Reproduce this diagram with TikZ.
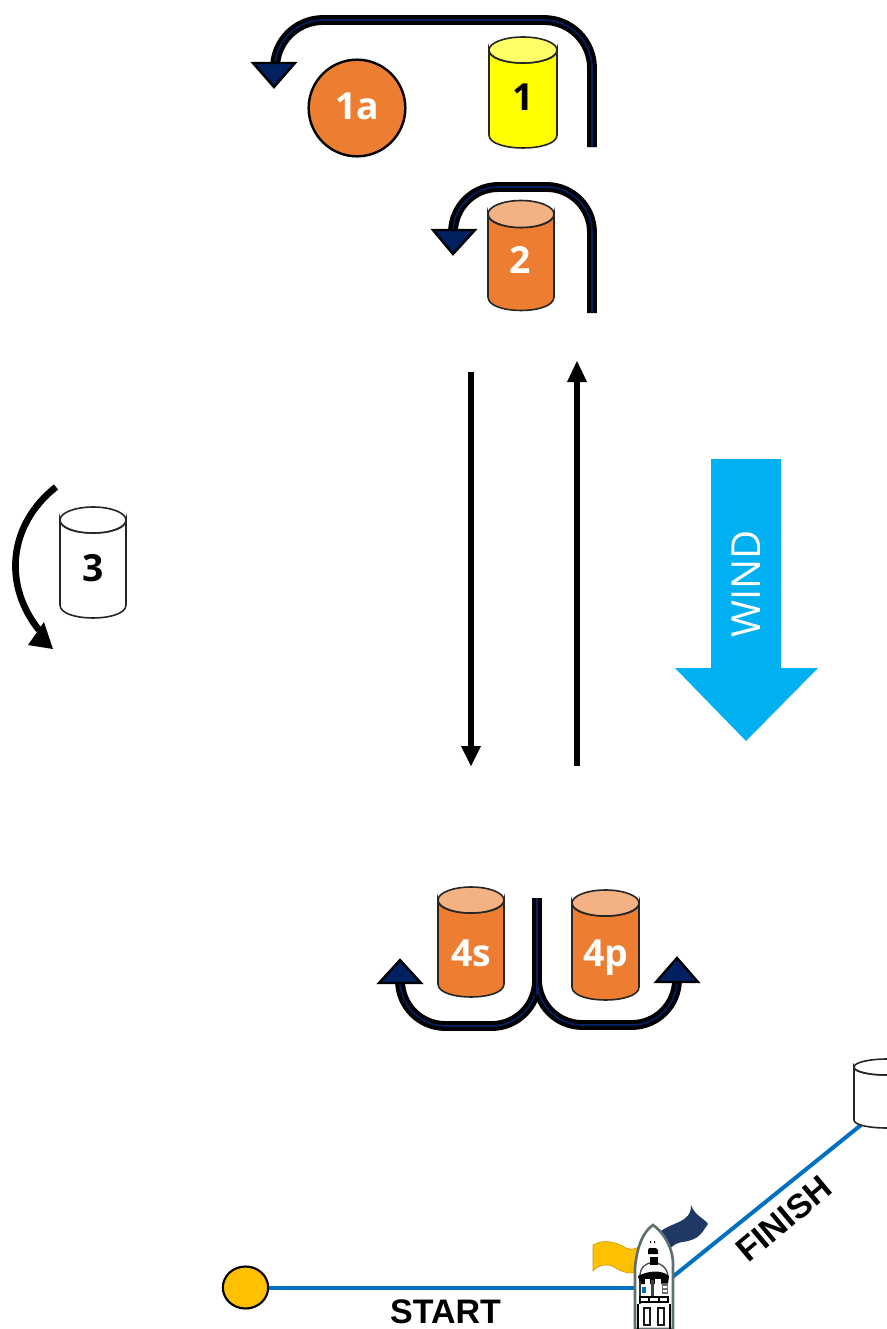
\documentclass[tikz,border=0pt]{standalone}
\usetikzlibrary{shapes.geometric}
\usepackage{fontspec}
\setmainfont{Open Sans}
\newfontfamily\arialfont{Liberation Sans}
\definecolor{navyarrow}{HTML}{002060}
\definecolor{buoyorange}{HTML}{ED7D31}
\definecolor{buoyorangelt}{HTML}{F4B183}
\definecolor{buoyyellow}{HTML}{FFFF00}
\definecolor{buoyyellowlt}{HTML}{FFFF66}
\definecolor{startyellow}{HTML}{FFC000}
\definecolor{linkblue}{HTML}{0070C0}
\definecolor{windblue}{HTML}{00B0F0}
\definecolor{flagblue}{HTML}{1F3864}
\definecolor{hullgrey}{HTML}{5F6F6F}
\newcommand{\buoy}[8]{% name, xl, xr, ytop, ybot, ry, body, lid
  \pgfmathsetmacro{\bc}{(#2+#3)/2}
  \pgfmathsetmacro{\brx}{(#3-#2)/2}
  \filldraw[fill=#7,draw=black!85,line width=1.2pt]
    (#2,#4) -- (#2,#5) .. controls (#2,#5+#6*1.33) and (#3,#5+#6*1.33) .. (#3,#5) -- (#3,#4)
    .. controls (#3,#4+#6*1.33) and (#2,#4+#6*1.33) .. (#2,#4) -- cycle;
  \filldraw[fill=#8,draw=black!85,line width=1.2pt] (\bc,#4) ellipse [x radius=\brx*.75pt,y radius=#6*.75pt];
  \coordinate (#1) at (\bc,{(#4+#5)/2+6});
}
\tikzset{
  x=.75pt,y=-.75pt,
  coursepath/.style={navyarrow,line width=1.3pt,line cap=butt,preaction={draw=black,line width=7.4pt}},
  coursehead/.style={fill=navyarrow,draw=black,line width=1.8pt,line join=miter},
  legstem/.style={draw=black,line width=4.4pt},
  leghead/.style={fill=black,draw=none},
  markerwhite/.style={font=\fontsize{28}{30}\selectfont\bfseries,text=white,inner sep=0pt},
  markerblack/.style={font=\fontsize{28}{30}\selectfont\bfseries,text=black,inner sep=0pt},
  linelabel/.style={font=\arialfont\fontsize{25.5}{27}\selectfont\bfseries,text=black,inner sep=0pt},
  courseline/.style={draw=linkblue,line width=3pt},
}
\begin{document}
\begin{tikzpicture}
\useasboundingbox (0,0) rectangle (887,1329);
% course lines
\node[draw=black,fill=startyellow,line width=1.6pt,ellipse,inner sep=0pt,minimum width=34pt,minimum height=31.5pt] (startmark) at (245.5,1287.5) {};
\coordinate (boatport) at (645,1287.5);
\coordinate (boatstbd) at (670,1279);
\coordinate (finishend) at (861,1125);
\draw[courseline] (startmark) -- (boatport);
\draw[courseline] (boatstbd) -- (finishend);
% finish buoy
\buoy{finishbuoy}{854}{920}{1067}{1120}{8}{white}{white}
% yellow buoy 1 and arrow
\buoy{one}{489}{557}{50}{135}{13}{buoyyellow}{buoyyellowlt}
\node[markerblack] (onelabel) at (523,97) {1};
\node[draw=black,fill=buoyorange,line width=1.8pt,circle,minimum size=72.5pt,inner sep=0pt] (onea) at (357,108) {};
\node[markerwhite] (onealabel) at (357,106) {1a};
\coordinate (aA) at (592,147); \coordinate (aB) at (592,20); \coordinate (aC) at (275,20); \coordinate (aD) at (275,64);
\draw[coursepath,rounded corners=36pt] (aA) -- (aB) -- (aC) -- (aD);
\filldraw[coursehead] (253,63) -- (295,63) -- (274,87) -- cycle;
% buoy 2
\buoy{two}{488}{554}{214}{297}{13.5}{buoyorange}{buoyorangelt}
\node[markerwhite] (twolabel) at (520,260) {2};
\coordinate (bA) at (592,313); \coordinate (bB) at (592,187); \coordinate (bC) at (453,187); \coordinate (bD) at (453,231);
\draw[coursepath,rounded corners=34pt] (bA) -- (bB) -- (bC) -- (bD);
\filldraw[coursehead] (433,230) -- (475,230) -- (453,254) -- cycle;
% straight legs
\coordinate (dA) at (471,372); \coordinate (dB) at (471,748);
\coordinate (uA) at (577,766); \coordinate (uB) at (577,380);
\draw[legstem] (dA) -- (dB);
\fill[leghead] (461,746) -- (481,746) -- (471,766) -- cycle;
\draw[legstem] (uA) -- (uB);
\fill[leghead] (567,382) -- (587,382) -- (577,361) -- cycle;
% wind
\fill[windblue] (711,459) -- (781,459) -- (781,668) -- (818,668) -- (746,741) -- (675,668) -- (711,668) -- cycle;
\node[rotate=90,text=white,font=\fontsize{30}{32}\selectfont,inner sep=0pt] (wind) at (746,584) {WIND};
% buoy 3
\buoy{three}{60}{126}{520}{605}{13}{white}{white}
\node[markerblack] (threelabel) at (93,568) {3};
\coordinate (cA) at (56,487); \coordinate (cB) at (39,630);
\draw[draw=black,line width=5pt] (cA) .. controls (8,525) and (3,585) .. (cB);
\fill[leghead] (28,645) -- (53,649) -- (44,622) -- cycle;
% buoys 4
\buoy{fours}{438}{504}{900}{984}{13}{buoyorange}{buoyorangelt}
\node[markerwhite] (fourslabel) at (471,953) {4s};
\buoy{fourp}{572}{639}{903}{987}{13}{buoyorange}{buoyorangelt}
\node[markerwhite] (fourplabel) at (606,958) {4p};
\coordinate (eA) at (537,898); \coordinate (eB) at (537,1026); \coordinate (eC) at (537,1025);
\coordinate (eL) at (400,1026); \coordinate (eLt) at (400,983);
\coordinate (eR) at (677,1025); \coordinate (eRt) at (677,982);
\draw[coursepath,rounded corners=34pt] (eA) -- (eB) -- (eL) -- (eLt);
\draw[coursepath,rounded corners=34pt] (eA) -- (eC) -- (eR) -- (eRt);
\draw[navyarrow,line width=1.3pt] (eA) -- (537,995);
\filldraw[coursehead] (379,983) -- (421,983) -- (400,960) -- cycle;
\filldraw[coursehead] (656,982) -- (698,982) -- (677,958) -- cycle;
% flags
\filldraw[fill=startyellow,draw=startyellow!80!black,line width=.5pt]
  (593,1245) .. controls (605,1238) and (618,1243) .. (626,1248) .. controls (632,1251) and (638,1248) .. (641,1245)
  -- (641,1270) .. controls (632,1276) and (622,1272) .. (614,1267) .. controls (607,1263) and (598,1265) .. (593,1271) -- cycle;
\fill[flagblue]
  (658,1234) .. controls (668,1222) and (692,1224) .. (691,1205) .. controls (695,1216) and (704,1218) .. (708,1224)
  .. controls (702,1232) and (700,1240) .. (682,1242) .. controls (672,1244) and (668,1250) .. (665,1258) -- cycle;
% boat
\begin{scope}
\clip (0,0) rectangle (887,1329);
\filldraw[fill=white,draw=hullgrey,line width=2pt]
  (653,1225) .. controls (662,1231) and (672,1245) .. (673,1262) -- (673,1329) -- (635,1329) -- (635,1268)
  .. controls (637,1245) and (644,1231) .. (653,1225) -- cycle;
\fill[black] (649,1248) -- (656,1248) -- (658,1250) -- (658,1254) -- (648,1254) -- (648,1250) -- cycle;
\fill[black] (650,1241) rectangle (651,1243) (654,1241) rectangle (655,1243);
\draw[black!70,line width=1pt] (640,1276) .. controls (640,1258) and (666,1258) .. (668,1276);
\fill[black] (650,1257) rectangle (658,1265);
\fill[black] (638,1276) .. controls (650,1270) and (662,1270) .. (669,1276) -- (668,1284) -- (640,1284) -- cycle;
\fill[white] (645,1279) rectangle (650,1295);
\fill[white] (655,1279) rectangle (661,1295);
\fill[black!75] (651,1280) rectangle (654,1296);
\fill[black!60] (662,1283) rectangle (668,1294);
\fill[white] (663,1286) rectangle (667,1288) (663,1290) rectangle (667,1292);
\fill[linkblue] (642,1287) rectangle (646,1293);
\fill[black!80] (639,1281) rectangle (641,1304);
\filldraw[fill=white,draw=black,line width=.8pt] (640,1297) rectangle (668,1302);
\draw[black,line width=.8pt] (649,1297) -- (649,1302) (659,1297) -- (659,1302);
\draw[black!90,line width=1.3pt] (644,1308) rectangle (650,1325) (658,1308) rectangle (664,1325);
\draw[black,line width=1.4pt] (638,1304) -- (638,1329) (670,1304) -- (670,1329);
\end{scope}
% labels
\node[linelabel] (startlabel) at (445.5,1312) {START};
\node[linelabel,rotate=40] (finishlabel) at (784,1219) {FINISH};
\end{tikzpicture}
\end{document}
